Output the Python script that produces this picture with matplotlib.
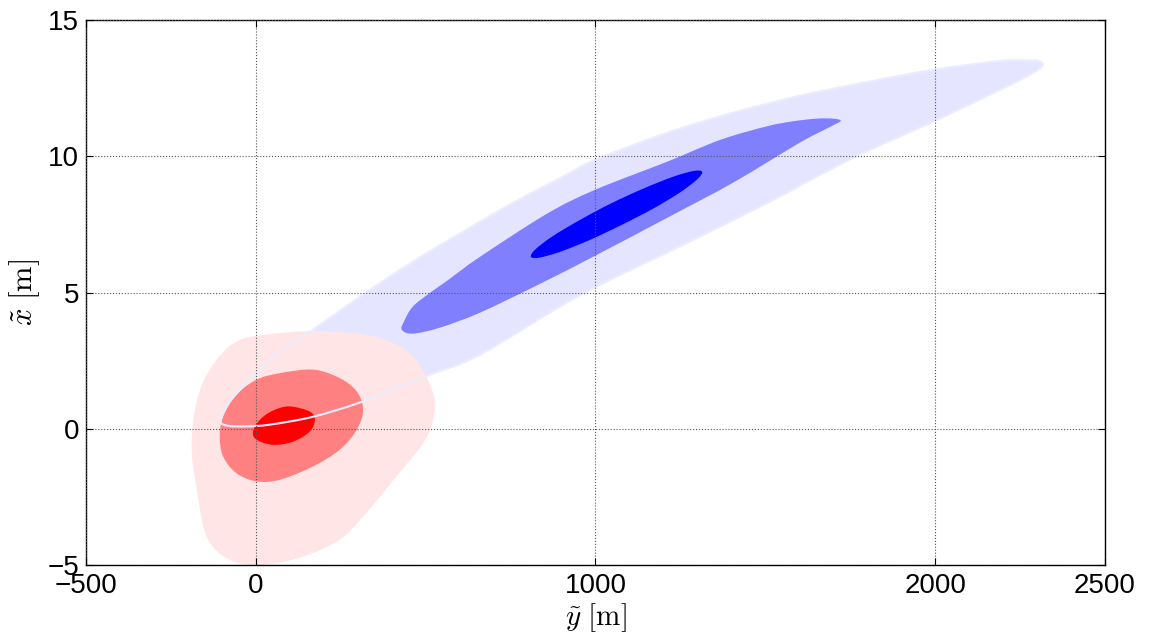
import matplotlib
matplotlib.use("Agg")
import matplotlib.pyplot as plt
from matplotlib.path import Path
from matplotlib.patches import PathPatch

plt.rcParams['font.family'] = ['Liberation Sans', 'DejaVu Sans']
plt.rcParams['mathtext.fontset'] = 'cm'

# contour regions, (y~ [m], x~ [m]) vertices
blue_outer_y = [-103, -82, -26, 41, 168, 312, 512, 660, 954, 1249, 1505, 1758, 1994, 2191, 2289, 2318,
                2303, 2280, 2191, 1994, 1800, 1602, 1405, 1211, 999, 904, 757, 610, 462, 315, 168, 71, -9, -77]
blue_outer_x = [0.29, 0.11, 0.09, 0.15, 0.44, 0.99, 1.98, 2.72, 4.90, 6.70, 8.28, 9.94, 11.27, 12.44, 13.06, 13.36,
                13.50, 13.52, 13.50, 13.17, 12.73, 12.22, 11.60, 10.86, 9.87, 9.25, 8.29, 7.23, 6.13, 4.92, 3.63,
                2.83, 1.91, 0.99]

blue_mid_y = [430, 462, 542, 660, 837, 993, 1211, 1405, 1602, 1691, 1722, 1700, 1650, 1580, 1505, 1367,
              1211, 999, 857, 660, 563, 513, 462, 436]
blue_mid_x = [3.63, 3.49, 3.71, 4.26, 5.32, 6.31, 7.74, 9.03, 10.50, 11.08, 11.30, 11.38, 11.38, 11.28, 11.10, 10.60,
              9.80, 8.77, 7.89, 6.31, 5.43, 4.99, 4.48, 3.93]

blue_in_y = [1314, 1300, 1251, 1173, 1077, 980, 895, 835, 810, 823, 872, 951, 1046, 1144, 1229, 1289]
blue_in_x = [9.43, 9.16, 8.69, 8.10, 7.48, 6.91, 6.49, 6.28, 6.31, 6.58, 7.05, 7.64, 8.27, 8.83, 9.25, 9.46]

red_outer_y = [-57, 71, 218, 365, 463, 522, 522, 493, 414, 316, 247, 139, 22, -77, -145, -175, -189, -175, -135]
red_outer_x = [3.20, 3.51, 3.57, 3.33, 2.65, 1.31, 0.33, -0.52, -1.75, -3.22, -4.07, -4.69, -4.99, -4.81, -3.95,
               -2.12, -0.65, 0.94, 2.17]

red_mid_y = [71, 169, 247, 297, 316, 297, 247, 169, 71, 2, -57, -96, -106, -96, -57, 2]
red_mid_x = [2.04, 2.17, 1.86, 1.37, 0.70, -0.04, -0.77, -1.38, -1.87, -1.93, -1.63, -1.02, -0.28, 0.45, 1.25, 1.80]

red_in_y = [100, 159, 174, 159, 110, 51, 2, -8, 12, 51]
red_in_x = [0.82, 0.63, 0.33, -0.10, -0.47, -0.59, -0.40, -0.10, 0.33, 0.67]


def closed_curve(xs, ys):
    # smooth closed outline through the vertices (bezier path drawn by matplotlib)
    n = len(xs)
    verts = [(xs[0], ys[0])]
    codes = [Path.MOVETO]
    for i in range(n):
        x0, y0 = xs[i - 1], ys[i - 1]
        x1, y1 = xs[i], ys[i]
        x2, y2 = xs[(i + 1) % n], ys[(i + 1) % n]
        x3, y3 = xs[(i + 2) % n], ys[(i + 2) % n]
        verts.append((x1 + (x2 - x0) / 6, y1 + (y2 - y0) / 6))
        verts.append((x2 - (x3 - x1) / 6, y2 - (y3 - y1) / 6))
        verts.append((x2, y2))
        codes += [Path.CURVE4] * 3
    verts.append((xs[0], ys[0]))
    codes.append(Path.CLOSEPOLY)
    return Path(verts, codes)


fig = plt.figure(figsize=(11.49, 6.33), dpi=100)
ax = fig.add_axes([0.0748, 0.1074, 0.8869, 0.861])

regions = [(blue_outer_y, blue_outer_x, '#e5e5ff'),
           (blue_mid_y, blue_mid_x, '#8080ff'),
           (blue_in_y, blue_in_x, '#0000ff'),
           (red_outer_y, red_outer_x, '#ffe5e5'),
           (red_mid_y, red_mid_x, '#ff8080'),
           (red_in_y, red_in_x, '#ff0000')]
for xs, ys, c in regions:
    ax.add_patch(PathPatch(closed_curve(xs, ys), facecolor=c, edgecolor='none', lw=0))

# outline of the outer blue region stays visible over the red
ax.add_patch(PathPatch(closed_curve(blue_outer_y, blue_outer_x), facecolor='none',
                       edgecolor='#ececff', lw=1.5))

ax.set_xlim(-500, 2500)
ax.set_ylim(-5, 15)
ax.set_xticks([-500, 0, 1000, 2000, 2500])
ax.set_yticks([-5, 0, 5, 10, 15])
ax.grid(True, linestyle=':', color='#555555', lw=0.8)
ax.set_axisbelow(False)
ax.tick_params(direction='in', length=5, labelsize=20, top=True, right=True)
ax.tick_params(axis='x', pad=6)
ax.tick_params(axis='y', pad=5)
for s in ax.spines.values():
    s.set_linewidth(1.0)

ax.set_xlabel(r'$\tilde{y}\ [\mathrm{m}]$', fontsize=21, labelpad=1)
ax.set_ylabel(r'$\tilde{x}\ [\mathrm{m}]$', fontsize=22, labelpad=4)

fig.savefig('out.png', dpi=100)
